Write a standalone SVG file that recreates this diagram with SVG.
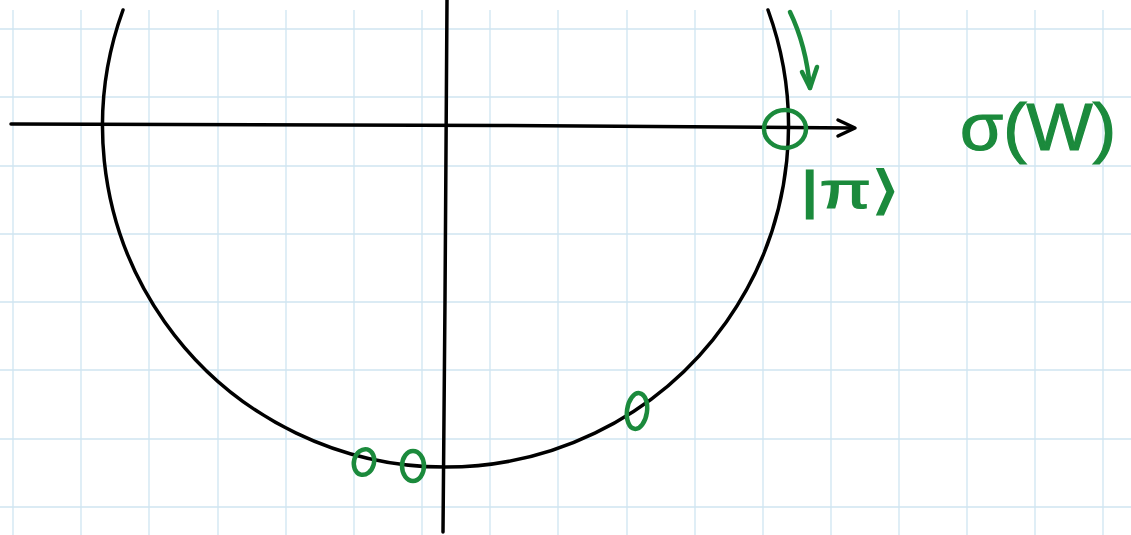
<svg xmlns="http://www.w3.org/2000/svg" width="1131" height="535" viewBox="0 0 1131 535">
<style>
.grid{stroke:#cfe5f1;stroke-width:1.3;fill:none}
.ink{stroke:#000;stroke-width:3.5;fill:none;stroke-linecap:round;stroke-linejoin:round}
.gr{stroke:#1b8a3c;stroke-width:4.5;fill:none;stroke-linecap:round;stroke-linejoin:round}
.gt{fill:#1b8a3c;stroke:#1b8a3c;stroke-width:1.2;font-family:"Liberation Sans",Arial,sans-serif}
</style>
<rect width="1131" height="535" fill="#fff"/>
<g id="grid" class="grid">
<path d="M13 10V535M81 10V535M149 10V535M218 10V535M286 10V535M354 10V535M422 10V535M490 10V535M558 10V535M627 10V535M695 10V535M763 10V535M831 10V535M899 10V535M967 10V535M1035 10V535M1103 10V535"/>
<path d="M0 29H1131M0 97H1131M0 166H1131M0 234H1131M0 302H1131M0 370H1131M0 439H1131M0 507H1131"/>
</g>
<g id="axes" class="ink">
<path d="M11 124 L500 125.5 L853 128"/>
<path d="M838 120 L855 128 L838 136"/>
<path d="M447 0 L445 300 L443 532"/>
</g>
<g id="circle" class="ink">
<path d="M123 10 A343 341 0 1 0 768 10"/>
</g>
<g id="green">
<path class="gr" d="M790 12 Q806 45 810 88"/>
<path class="gr" d="M802 72 L810 88 L817 67"/>
<ellipse class="gr" cx="785" cy="129" rx="21" ry="19"/>
<ellipse class="gr" cx="364" cy="462" rx="10" ry="13" transform="rotate(15 364 462)"/>
<ellipse class="gr" cx="413" cy="466" rx="11" ry="15"/>
<ellipse class="gr" cx="637" cy="411" rx="10" ry="18" transform="rotate(8 637 411)"/>
<text class="gt" x="800" y="208" font-size="52" textLength="100" lengthAdjust="spacingAndGlyphs">|π⟩</text>
<text class="gt" x="960" y="150" font-size="66" textLength="156" lengthAdjust="spacingAndGlyphs">σ(W)</text>
</g>
</svg>
